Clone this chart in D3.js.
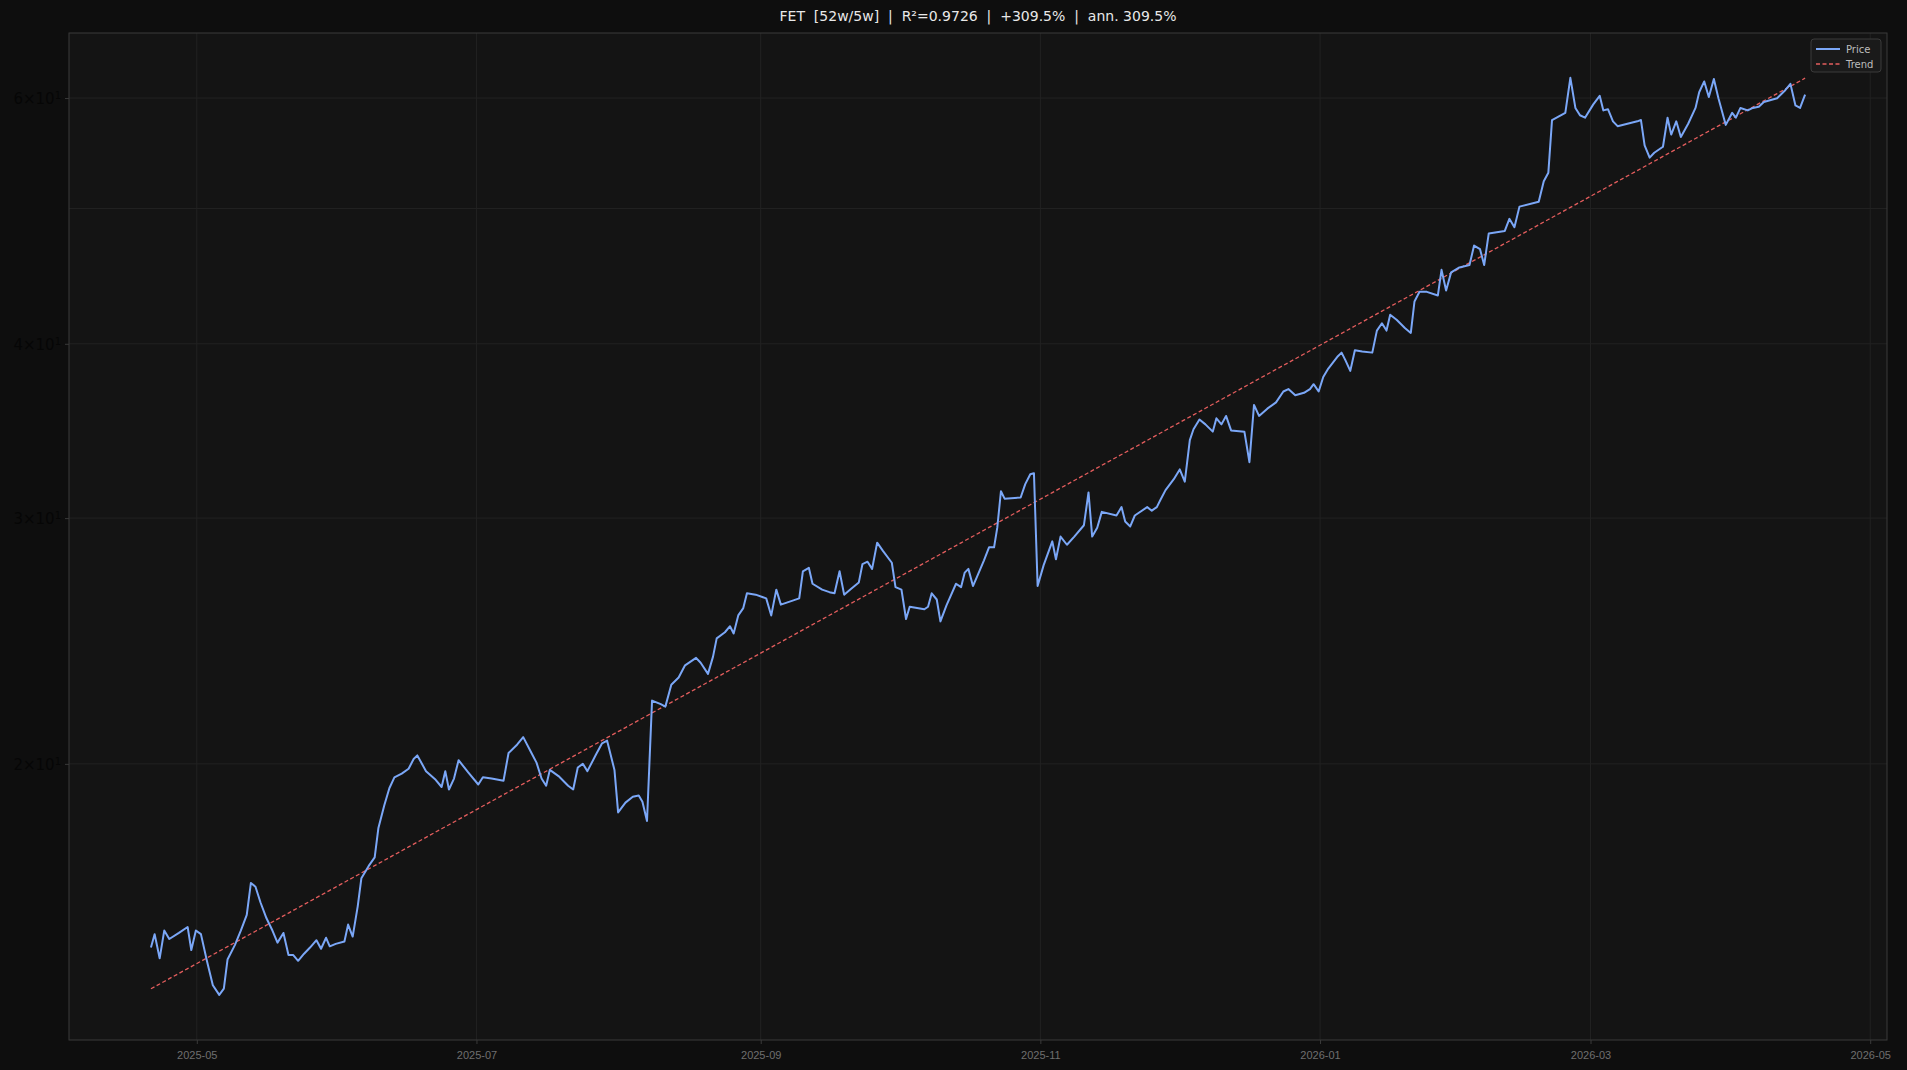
<!DOCTYPE html>
<html>
<head>
<meta charset="utf-8">
<script src="https://cdn.jsdelivr.net/npm/d3@7"></script>
<style>
  html, body { margin: 0; padding: 0; background: #0e0e0e; }
  svg { display: block; font-family: "DejaVu Sans", sans-serif; }
</style>
</head>
<body>
<svg id="chart" width="1907" height="1070"></svg>
<script>
const startDate = new Date(2025, 3, 21);

// days after startDate
const dayOffsets = [
  0, 0.8, 1.9, 2.9, 4.0, 6.1, 8.0, 8.8, 9.8, 10.9, 12.2, 13.5, 14.9, 15.9, 16.7, 18.3, 19.6, 20.9, 21.8, 22.8,
  23.9, 25.2, 26.5, 27.6, 28.9, 30.0, 31.0, 32.1, 33.4, 34.7, 36.1, 37.1, 38.2, 39.0, 40.3, 42.2, 43.0, 44.0, 45.1, 45.9,
  47.5, 48.8, 49.6, 50.9, 52.0, 53.1, 54.7, 56.2, 57.3, 58.1, 60.0, 62.1, 63.4, 64.2, 65.0, 66.1, 67.1, 69.2, 71.4, 72.4,
  74.3, 76.9, 78.0, 79.9, 81.2, 83.0, 84.1, 85.2, 86.2, 87.0, 88.9, 91.0, 92.1, 93.1, 94.2, 95.2, 97.1, 98.4, 99.5, 101.1,
  101.9, 103.5, 105.1, 106.4, 107.2, 108.2, 109.3, 111.2, 112.2, 113.5, 115.1, 116.5, 118.9, 119.9, 121.5, 122.6, 123.4, 125.2, 126.3, 127.1,
  128.1, 129.2, 130.0, 131.9, 134.2, 135.3, 136.4, 137.4, 139.8, 141.4, 142.2, 143.5, 144.3, 146.4, 148.0, 149.1, 150.2, 151.2, 152.8, 154.4,
  155.2, 156.3, 157.3, 158.4, 159.7, 161.6, 162.4, 163.7, 164.7, 165.5, 168.7, 169.5, 170.3, 171.4, 172.2, 173.5, 175.6, 176.7, 177.5, 178.3,
  179.3, 180.1, 181.7, 182.8, 183.9, 184.6, 185.4, 186.2, 189.7, 190.7, 191.8, 192.6, 193.4, 194.7, 196.6, 197.4, 198.4, 199.8, 201.4, 203.5,
  204.5, 205.3, 206.4, 207.4, 210.6, 211.7, 212.5, 213.6, 214.6, 217.3, 218.3, 219.4, 220.2, 221.3, 223.1, 224.4, 225.5, 226.6, 227.4, 228.7,
  230.0, 231.6, 232.4, 233.5, 234.5, 235.6, 238.5, 239.6, 240.6, 241.7, 243.5, 245.4, 247.0, 248.1, 249.6, 251.5, 252.8, 253.6, 254.7, 255.7,
  256.8, 258.9, 259.7, 260.5, 261.6, 262.6, 264.2, 266.4, 267.4, 268.5, 269.5, 270.3, 271.7, 273.5, 274.8, 275.6, 276.7, 278.3, 280.7, 281.5,
  282.5, 283.6, 285.4, 287.6, 288.6, 289.9, 290.8, 291.8, 295.3, 296.3, 297.4, 298.5, 302.7, 303.8, 304.8, 305.6, 308.5, 309.6, 310.7, 311.7,
  312.8, 314.6, 316.0, 316.8, 317.8, 318.9, 319.9, 324.2, 325.0, 325.8, 326.9, 327.9, 329.8, 330.8, 331.6, 332.7, 333.7, 335.3, 336.9, 337.7,
  338.8, 339.8, 340.9, 341.9, 343.5, 344.9, 345.7, 346.7, 348.3, 349.4, 350.7, 351.8, 354.7, 356.3, 357.6, 358.7, 359.7, 360.8
];

const prices = [
  14.77, 15.10, 14.51, 15.19, 14.98, 15.13, 15.28, 14.71, 15.19, 15.10, 14.45, 13.88, 13.66, 13.80, 14.48, 14.83, 15.19, 15.59, 16.43, 16.33,
  15.91, 15.50, 15.19, 14.89, 15.13, 14.59, 14.59, 14.45, 14.62, 14.77, 14.95, 14.74, 15.01, 14.80, 14.86, 14.92, 15.34, 15.04, 15.81, 16.56,
  16.90, 17.14, 17.98, 18.68, 19.21, 19.56, 19.68, 19.84, 20.16, 20.28, 19.76, 19.48, 19.25, 19.76, 19.17, 19.52, 20.12, 19.72, 19.33, 19.56,
  19.52, 19.45, 20.36, 20.65, 20.90, 20.36, 20.04, 19.52, 19.29, 19.80, 19.60, 19.29, 19.17, 19.88, 20.00, 19.76, 20.32, 20.69, 20.78, 19.80,
  18.46, 18.76, 18.94, 18.98, 18.79, 18.20, 22.20, 22.07, 21.98, 22.79, 23.06, 23.53, 23.82, 23.63, 23.20, 23.87, 24.60, 24.85, 25.10, 24.80,
  25.55, 25.86, 26.50, 26.44, 26.28, 25.55, 26.66, 26.01, 26.17, 26.28, 27.48, 27.64, 26.92, 26.66, 26.55, 26.50, 27.48, 26.44, 26.71, 26.98,
  27.81, 27.92, 27.59, 28.81, 28.41, 27.87, 26.77, 26.66, 25.40, 25.92, 25.81, 25.92, 26.50, 26.23, 25.30, 25.97, 26.92, 26.77, 27.42, 27.59,
  26.82, 27.19, 27.98, 28.59, 28.59, 29.53, 31.36, 30.98, 31.04, 31.73, 32.25, 32.31, 26.82, 27.75, 28.87, 28.03, 29.10, 28.71, 29.10, 29.65,
  31.30, 29.10, 29.53, 30.31, 30.13, 30.55, 29.83, 29.59, 30.13, 30.55, 30.37, 30.55, 30.92, 31.42, 31.99, 32.51, 31.86, 34.12, 34.74, 35.30,
  35.02, 34.60, 35.37, 35.02, 35.51, 34.67, 34.60, 32.90, 36.16, 35.51, 35.94, 36.31, 36.97, 37.12, 36.74, 36.89, 37.12, 37.42, 36.97, 37.87,
  38.40, 39.19, 39.42, 38.95, 38.25, 39.58, 39.50, 39.42, 40.88, 41.38, 40.88, 41.96, 41.62, 41.05, 40.72, 42.89, 43.58, 43.58, 43.32, 45.19,
  43.67, 45.01, 45.37, 45.55, 47.04, 46.76, 45.55, 47.99, 48.19, 49.16, 48.48, 50.16, 50.56, 52.31, 53.05, 57.86, 58.56, 62.04, 59.03, 58.32,
  58.09, 59.38, 60.22, 58.79, 58.91, 57.74, 57.28, 57.74, 57.86, 55.49, 54.38, 54.82, 55.37, 58.09, 56.49, 57.74, 56.26, 57.51, 59.03, 60.58,
  61.67, 60.10, 61.91, 59.98, 57.40, 58.56, 58.09, 59.03, 58.79, 59.03, 59.15, 59.62, 59.98, 60.70, 61.42, 59.27, 59.03, 60.34
];

const yTickValues = [20, 30, 40, 60];
const yGridValues = [20, 30, 40, 50, 60];
const xTickLabels = ["2025-05", "2025-07", "2025-09", "2025-11", "2026-01", "2026-03", "2026-05"];
const titleText = "FET  [52w/5w]  |  R\u00b2=0.9726  |  +309.5%  |  ann. 309.5%";

const W = 1907, H = 1070;
const margin = { top: 33, right: 20, bottom: 30, left: 69 };
const innerW = W - margin.left - margin.right;
const innerH = H - margin.top - margin.bottom;

const addDays = d => new Date(startDate.getTime() + d * 86400000);
const data = dayOffsets.map((d, i) => ({ date: addDays(d), day: d, price: prices[i] }));

// log-linear least squares trend
const mx = d3.mean(data, d => d.day);
const my = d3.mean(data, d => Math.log(d.price));
const slope = d3.sum(data, d => (d.day - mx) * (Math.log(d.price) - my)) / d3.sum(data, d => (d.day - mx) ** 2);
const icpt = my - slope * mx;
const trend = data.map(d => ({ date: d.date, value: Math.exp(icpt + slope * d.day) }));

const svg = d3.select('#chart');
svg.append('rect').attr('width', W).attr('height', H).attr('fill', '#0e0e0e');

const x = d3.scaleTime()
    .domain([new Date(2025, 3, 3, 3), new Date(2026, 4, 4, 16)])
    .range([0, innerW]);
const y = d3.scaleLog().domain([12.68, 66.8]).range([innerH, 0]);

const g = svg.append('g').attr('transform', `translate(${margin.left},${margin.top})`);
g.append('rect').attr('width', innerW).attr('height', innerH).attr('fill', '#141414');

const xTicks = xTickLabels.map(s => d3.timeParse('%Y-%m')(s));

g.append('g').selectAll('line').data(xTicks).enter().append('line')
    .attr('x1', d => x(d)).attr('x2', d => x(d)).attr('y1', 0).attr('y2', innerH)
    .attr('stroke', '#222').attr('stroke-width', 1);
g.append('g').selectAll('line').data(yGridValues).enter().append('line')
    .attr('x1', 0).attr('x2', innerW).attr('y1', d => y(d)).attr('y2', d => y(d))
    .attr('stroke', '#222').attr('stroke-width', 1);

const line = d3.line().x(d => x(d.date));

g.append('path').datum(trend)
    .attr('d', line.y(d => y(d.value)))
    .attr('fill', 'none').attr('stroke', '#e35d5d').attr('stroke-width', 1.3)
    .attr('stroke-dasharray', '4,2.5');

g.append('path').datum(data)
    .attr('d', line.y(d => y(d.price)))
    .attr('fill', 'none').attr('stroke', '#7ba7f7').attr('stroke-width', 2)
    .attr('stroke-linejoin', 'round');

g.append('rect').attr('width', innerW).attr('height', innerH)
    .attr('fill', 'none').attr('stroke', '#3a3a3a').attr('stroke-width', 1);

// x axis
const xAxis = g.append('g').attr('transform', `translate(0,${innerH})`)
    .call(d3.axisBottom(x).tickValues(xTicks).tickFormat(d3.timeFormat('%Y-%m')).tickSize(4));
xAxis.select('.domain').remove();
xAxis.selectAll('line').attr('stroke', '#3a3a3a');
xAxis.selectAll('text').attr('fill', '#6f6f6f').style('font-size', '11px').attr('dy', '1.1em');

// y axis (log ticks rendered as a×10^1)
const yAxis = g.append('g')
    .call(d3.axisLeft(y).tickValues(yTickValues).tickFormat('').tickSize(4));
yAxis.select('.domain').remove();
yAxis.selectAll('line').attr('stroke', '#3a3a3a');
const yl = g.append('g').selectAll('text').data(yTickValues).enter().append('text')
    .attr('x', -8).attr('y', d => y(d)).attr('dy', '0.4em')
    .attr('text-anchor', 'end').attr('fill', '#060606').style('font-size', '15px');
yl.append('tspan').text(d => `${d / 10}\u00d710`);
yl.append('tspan').text('1').attr('dy', '-0.5em').style('font-size', '10px');

// title
svg.append('text').attr('x', margin.left + innerW / 2).attr('y', 21)
    .attr('text-anchor', 'middle').attr('fill', '#e8e8e8').style('font-size', '14px')
    .style('white-space', 'pre').text(titleText);

// legend
const lg = g.append('g').attr('transform', `translate(${innerW - 76},6)`);
lg.append('rect').attr('width', 70).attr('height', 33).attr('rx', 3)
    .attr('fill', '#1a1a1a').attr('stroke', '#3a3a3a');
const items = [
  { name: 'Price', color: '#7ba7f7', dash: null, w: 2 },
  { name: 'Trend', color: '#e35d5d', dash: '4,2.5', w: 1.3 }
];
items.forEach((it, i) => {
    const yy = 10 + i * 15;
    lg.append('line').attr('x1', 5).attr('x2', 29).attr('y1', yy).attr('y2', yy)
        .attr('stroke', it.color).attr('stroke-width', it.w).attr('stroke-dasharray', it.dash);
    lg.append('text').attr('x', 35).attr('y', yy).attr('dy', '0.35em')
        .attr('fill', '#bdbdbd').style('font-size', '10px').text(it.name);
});
</script>
</body>
</html>
